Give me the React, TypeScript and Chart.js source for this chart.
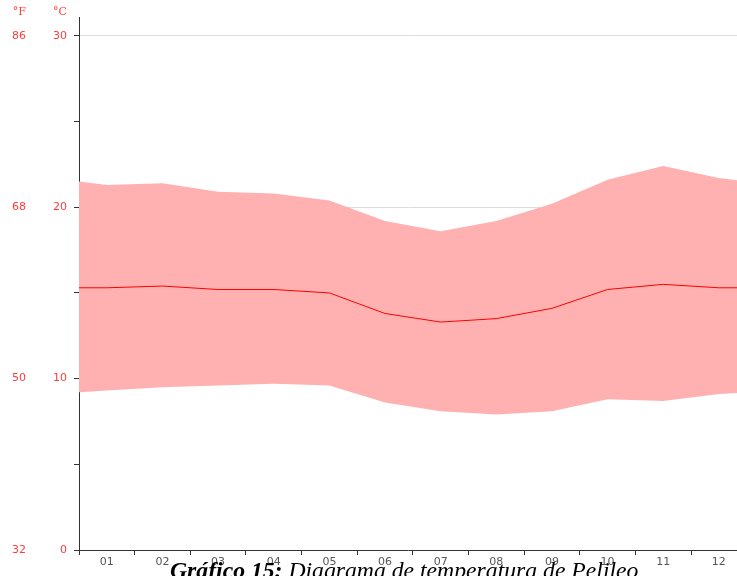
import React, { useEffect, useRef } from "react";
import { Chart, registerables } from "chart.js";

Chart.register(...registerables);

const months = ["01", "02", "03", "04", "05", "06", "07", "08", "09", "10", "11", "12"];
const maxTemp = [21.3, 21.4, 20.9, 20.8, 20.4, 19.2, 18.6, 19.2, 20.2, 21.6, 22.4, 21.7];
const meanTemp = [15.3, 15.4, 15.2, 15.2, 15.0, 13.8, 13.3, 13.5, 14.1, 15.2, 15.5, 15.3];
const minTemp = [9.3, 9.5, 9.6, 9.7, 9.6, 8.6, 8.1, 7.9, 8.1, 8.8, 8.7, 9.1];
const celsiusTicks = [0, 5, 10, 15, 20, 25, 30];
const fahrenheitLabels: Record<number, string> = { 0: "32", 10: "50", 20: "68", 30: "86" };
const caption = "Diagrama de temperatura de Pelileo";

// repeat December before January and January after December so the band wraps around the year
function wrapYear(arr: number[]) {
  const pts = [{ x: 0, y: arr[arr.length - 1] }];
  arr.forEach((v, i) => pts.push({ x: i + 1, y: v }));
  pts.push({ x: arr.length + 1, y: arr[0] });
  return pts;
}

const FONT = "'DejaVu Sans', sans-serif";
const RED = "rgb(255, 60, 60)";
const AXIS = "#333";

export default function App() {
  const ref = useRef<HTMLCanvasElement | null>(null);

  useEffect(() => {
    if (!ref.current) return;
    const headerPlugin = {
      id: "unitHeader",
      afterDraw(chart: any) {
        const ctx = chart.ctx;
        const yF = chart.scales.yF;
        const yC = chart.scales.y;
        ctx.save();
        ctx.font = `11px 'DejaVu Serif', serif`;
        ctx.fillStyle = RED;
        ctx.textAlign = "right";
        ctx.textBaseline = "middle";
        ctx.fillText("°F", yF.right - 4, 12);
        ctx.fillText("°C", yC.right - 12, 12);
        ctx.restore();
      },
    };

    const chart = new Chart(ref.current, {
      type: "line",
      data: {
        datasets: [
          {
            label: "media",
            data: wrapYear(meanTemp),
            borderColor: "#ff0000",
            borderWidth: 1,
            pointRadius: 0,
            fill: false,
            tension: 0,
          },
          {
            label: "max",
            data: wrapYear(maxTemp),
            borderWidth: 0,
            borderColor: "rgba(0,0,0,0)",
            backgroundColor: "#ffb1b1",
            pointRadius: 0,
            fill: 2,
            tension: 0,
          },
          {
            label: "min",
            data: wrapYear(minTemp),
            borderWidth: 0,
            borderColor: "rgba(0,0,0,0)",
            pointRadius: 0,
            fill: false,
            tension: 0,
          },
        ],
      },
      options: {
        animation: false,
        responsive: true,
        maintainAspectRatio: false,
        events: [],
        layout: { padding: { top: 17, left: 0, right: 0, bottom: 0 } },
        plugins: {
          legend: { display: false },
          tooltip: { enabled: false },
        },
        scales: {
          x: {
            type: "linear",
            min: 0.5,
            max: 12.326,
            afterBuildTicks: (s: any) => {
              const t: any[] = [];
              for (let i = 0; i < months.length; i++) {
                t.push({ value: i + 0.5 });
                t.push({ value: i + 1 });
              }
              s.ticks = t;
            },
            afterFit: (s: any) => {
              s.height = 26;
            },
            ticks: {
              autoSkip: false,
              maxRotation: 0,
              padding: 1,
              color: "#555",
              font: { family: FONT, size: 11 },
              callback: (v: any) => (Number.isInteger(v) ? months[v - 1] : ""),
            },
            grid: {
              drawOnChartArea: false,
              tickLength: 5,
              tickColor: (c: any) =>
                c.tick && Number.isInteger(c.tick.value) ? "rgba(0,0,0,0)" : AXIS,
            },
            border: { color: AXIS, width: 1 },
          },
          y: {
            type: "linear",
            position: "left",
            weight: 0,
            min: 0,
            max: 31.1,
            afterBuildTicks: (s: any) => {
              s.ticks = celsiusTicks.map((v) => ({ value: v }));
            },
            afterFit: (s: any) => {
              s.width = 49;
            },
            ticks: {
              padding: 7,
              color: RED,
              font: { family: FONT, size: 11 },
              callback: (v: any) => (v % 10 === 0 ? String(v) : ""),
            },
            grid: {
              drawOnChartArea: true,
              tickLength: 5,
              color: (c: any) =>
                c.tick && c.tick.value % 10 === 0 && c.tick.value > 0 ? "#dddddd" : "rgba(0,0,0,0)",
              tickColor: AXIS,
            },
            border: { color: AXIS, width: 1 },
          },
          yF: {
            type: "linear",
            position: "left",
            weight: 1,
            min: 0,
            max: 31.1,
            afterBuildTicks: (s: any) => {
              s.ticks = Object.keys(fahrenheitLabels).map((k) => ({ value: Number(k) }));
            },
            afterFit: (s: any) => {
              s.width = 30;
            },
            ticks: {
              padding: 4,
              color: RED,
              font: { family: FONT, size: 11 },
              callback: (v: any) => fahrenheitLabels[v] ?? "",
            },
            grid: { display: false, drawTicks: false },
            border: { display: false },
          },
        },
      } as any,
      plugins: [headerPlugin],
    });
    return () => chart.destroy();
  }, []);

  return (
    <div
      style={{
        position: "fixed",
        left: 0,
        top: 0,
        width: 737,
        height: 576,
        overflow: "hidden",
        background: "#fff",
      }}
    >
      <div style={{ position: "absolute", left: 0, top: 0, width: 737, height: 576 }}>
        <canvas ref={ref} />
      </div>
      <div
        style={{
          position: "absolute",
          left: 170,
          top: 558,
          fontFamily: "'Liberation Serif', serif",
          fontSize: 23.7,
          lineHeight: "24px",
          fontStyle: "italic",
          whiteSpace: "nowrap",
          color: "#000",
        }}
      >
        <b>Gráfico 15:</b> {caption}
      </div>
    </div>
  );
}
